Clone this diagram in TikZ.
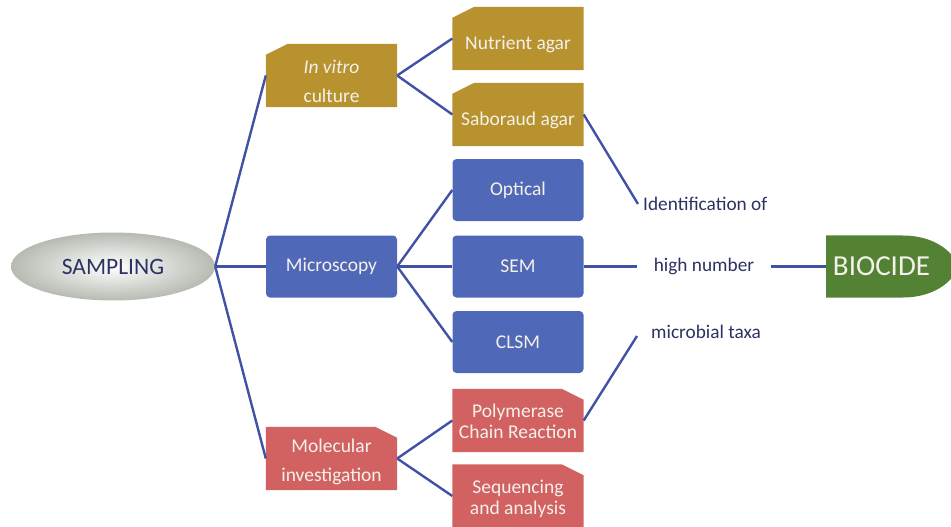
\documentclass[tikz,border=0pt]{standalone}
\usepackage{fontspec}
\setmainfont{Carlito}
\usetikzlibrary{calc,backgrounds,shapes.geometric}
\definecolor{gold}{HTML}{B8922E}
\definecolor{mblue}{HTML}{5068B8}
\definecolor{mred}{HTML}{D26262}
\definecolor{mgreen}{HTML}{548235}
\definecolor{lnc}{HTML}{4152A6}
\definecolor{navy}{HTML}{2C3262}
\definecolor{boxtxt}{HTML}{F4F1EA}
\definecolor{sgray}{HTML}{B6BBB2}
\tikzset{
  btxt/.style={inner sep=0pt,align=center,text=boxtxt,font=\fontsize{19.5}{21}\selectfont},
  box/.style={minimum width=131pt,minimum height=63pt,inner sep=0pt,btxt},
  rbox/.style={box,fill=mblue,rounded corners=4pt,minimum height=62pt},
  lbl/.style={text=navy,font=\fontsize{19.3}{22}\selectfont,inner sep=0pt},
  conn/.style={draw=lnc,line width=2.4pt},
}
\newcommand\snipnw[2]{\fill[#2] ($(#1.north west)+(0,-11pt)$) -- ($(#1.north west)+(22pt,0)$) -- (#1.north east) -- (#1.south east) -- (#1.south west) -- cycle;}
\newcommand\snipne[2]{\fill[#2] ($(#1.north east)+(0,-11pt)$) -- ($(#1.north east)+(-22pt,0)$) -- (#1.north west) -- (#1.south west) -- (#1.south east) -- cycle;}
\begin{document}
\begin{tikzpicture}[x=1pt,y=-1pt]
\useasboundingbox (0,0) rectangle (951,527);
\begin{scope}
\clip (0,0) rectangle (951,527);
% sampling
\node[ellipse,minimum width=204pt,minimum height=68pt,inner sep=0pt,
  shading=radial,inner color=white,outer color=sgray,
  text=navy,font=\fontsize{23.5}{28}\selectfont] (samp) at (113,266.5) {SAMPLING};
% level 1
\node[box,label={[btxt,yshift=-5.5pt]center:{\textit{In vitro}\\[8pt]culture}}] (vitro) at (331.5,75.5) {};
\node[rbox] (micro) at (331.5,266.5) {Microscopy};
\node[box,label={[btxt,yshift=-3pt]center:{Molecular\\[8pt]investigation}}] (molec) at (331.5,458.5) {};
% level 2
\node[box,label={[btxt,yshift=-5.5pt]center:Nutrient agar}] (nutr) at (518,38.5) {};
\node[box,label={[btxt,yshift=-5.5pt]center:Saboraud agar}] (sabo) at (518,114.5) {};
\node[rbox] (opt) at (518,190) {Optical};
\node[rbox] (sem) at (518,266.5) {SEM};
\node[rbox] (clsm) at (518,342) {CLSM};
\node[box,label={[btxt,yshift=-1pt]center:{Polymerase\\Chain Reaction}}] (pcr) at (518,420.5) {};
\node[box,label={[btxt,yshift=-2.5pt]center:{Sequencing\\and analysis}}] (seq) at (518,496) {};
% labels
\node[lbl,inner xsep=5pt,anchor=west] (ident) at (638,204) {Identification of};
\node[lbl,inner xsep=17pt] (high) at (704,266.5) {high number};
\node[lbl,anchor=west] (taxa) at (651,332) {microbial taxa};
\coordinate (taxaIn) at (637,336);
% biocide
\node[minimum width=125pt,minimum height=62pt,inner sep=0pt,anchor=west] (bio) at (826,266.5) {};
\node[text=boxtxt,font=\fontsize{29}{32}\selectfont,inner sep=0pt] (biot) at (881.5,266.5) {BIOCIDE};
\begin{scope}[on background layer]
\snipnw{vitro}{gold}
\snipnw{nutr}{gold}
\snipnw{sabo}{gold}
\snipne{molec}{mred}
\snipne{pcr}{mred}
\snipne{seq}{mred}
\fill[mgreen] (bio.north west) -- (903,235.5) .. controls (932,235.5) and (953,250) .. (958,266.5)
  .. controls (953,283) and (932,297.5) .. (903,297.5) -- (bio.south west) -- cycle;
\end{scope}
% connectors
\draw[conn] (samp.east) -- (vitro.west);
\draw[conn] (samp.east) -- (micro.west);
\draw[conn] (samp.east) -- (molec.west);
\draw[conn] (vitro.east) -- (nutr.west);
\draw[conn] (vitro.east) -- (sabo.west);
\draw[conn] (micro.east) -- (opt.west);
\draw[conn] (micro.east) -- (sem.west);
\draw[conn] (micro.east) -- (clsm.west);
\draw[conn] (molec.east) -- (pcr.west);
\draw[conn] (molec.east) -- (seq.west);
\draw[conn] (sabo.east) -- (ident.west);
\draw[conn] (sem.east) -- (high.west);
\draw[conn] (high.east) -- (bio.west);
\draw[conn] (pcr.east) -- (taxaIn);
\end{scope}
\end{tikzpicture}
\end{document}
